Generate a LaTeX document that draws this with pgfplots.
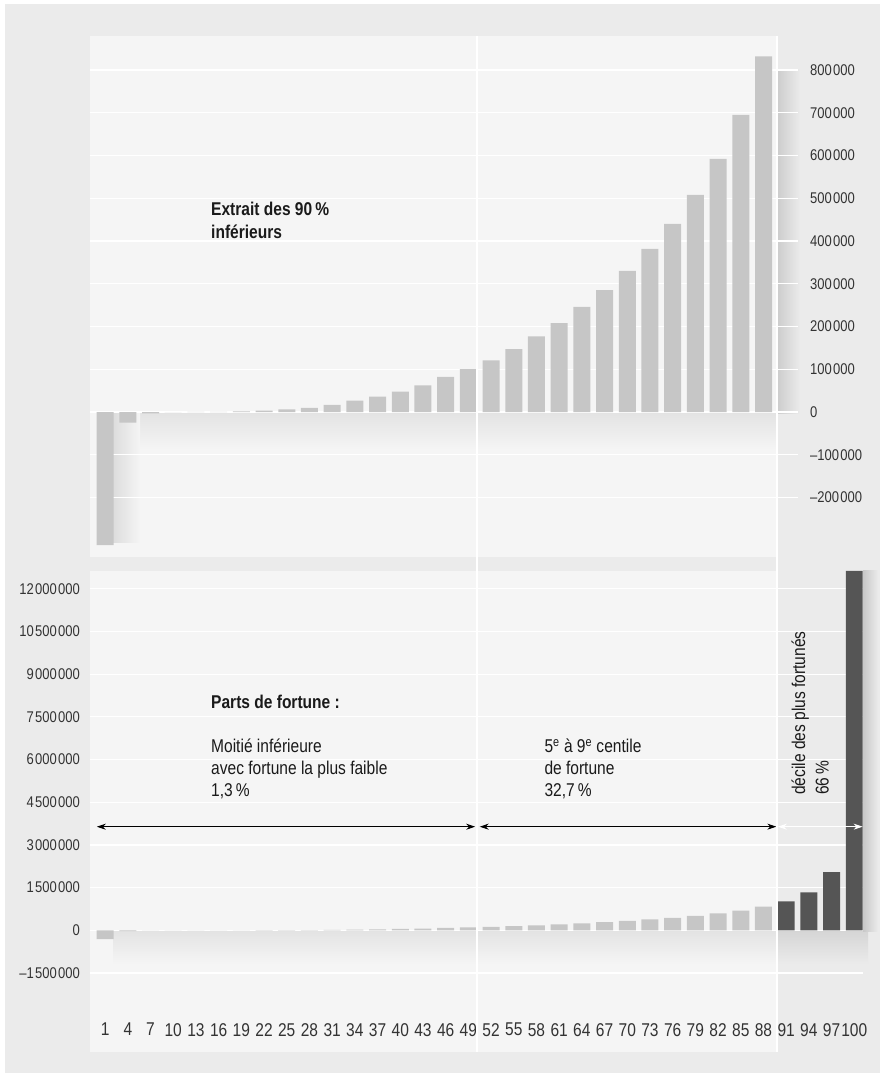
\documentclass[border=0pt]{standalone}
\usepackage{pgfplots}
\pgfplotsset{compat=1.18}
\usepackage{pgfplotstable}
\usetikzlibrary{arrows.meta}
\usepackage{fontspec}
\setmainfont{Liberation Sans}[FakeStretch=0.84]

\definecolor{outerbg}{HTML}{EBEBEB}
\definecolor{panelbg}{HTML}{F5F5F5}
\definecolor{lightbar}{HTML}{C6C6C6}
\definecolor{darkbar}{HTML}{555555}
\definecolor{tickc}{HTML}{333333}
\definecolor{txt}{HTML}{1A1A1A}
\newcommand{\ts}{\kern1.3pt}

\pgfplotstableread{
c v
1 -311000
4 -25000
7 -3000
10 0
13 200
16 500
19 1500
22 3500
25 6000
28 10000
31 17000
34 26500
37 36000
40 48000
43 62500
46 82000
49 100500
52 121000
55 147000
58 177000
61 208000
64 246000
67 285000
70 330000
73 381500
76 440000
79 508000
82 592000
85 695000
88 832000
}\lightdata

\pgfplotstableread{
c v
91 1020000
94 1336000
97 2040000
100 12622000
}\darkdata

\begin{document}
\begin{tikzpicture}
\useasboundingbox (0pt,0pt) rectangle (880pt,1078pt);
\fill[white] (0pt,0pt) rectangle (880pt,1078pt);
\fill[outerbg] (5pt,5pt) rectangle (880pt,1074pt);
\fill[panelbg] (90pt,521pt) rectangle (777pt,1042pt);
\fill[panelbg] (90pt,26pt) rectangle (777pt,507pt);
% soft shadows (decoration)
\shade[top color=black!7!panelbg, bottom color=panelbg] (135pt,628pt) rectangle (777pt,664pt);
\shade[left color=black!10!panelbg, right color=panelbg] (113pt,535pt) rectangle (140pt,664pt);
\shade[left color=black!13!outerbg, right color=outerbg] (777pt,664pt) rectangle (800pt,1008pt);
\shade[top color=black!7!panelbg, bottom color=panelbg] (113pt,114pt) rectangle (777pt,146pt);
\shade[top color=black!9!outerbg, bottom color=outerbg] (777pt,114pt) rectangle (868pt,146pt);
\shade[left color=black!15!outerbg, right color=outerbg] (863pt,146pt) rectangle (878pt,507pt);

% ---------- top chart ----------
\begin{axis}[at={(90pt,521pt)}, anchor=south west, scale only axis,
  width=708pt, height=521pt,
  xmin=-1, xmax=92.56, ymin=-339000, ymax=879500,
  ybar, bar width=17pt,
  axis line style={draw=none}, major tick length=0pt,
  xtick=\empty, scaled y ticks=false,
  ytick={-200000,-100000,0,100000,200000,300000,400000,500000,600000,700000,800000},
  yticklabels={–200\ts000,–100\ts000,0,100\ts000,200\ts000,300\ts000,400\ts000,500\ts000,600\ts000,700\ts000,800\ts000},
  yticklabel pos=right,
  yticklabel style={anchor=west, inner sep=0pt, xshift=12pt, font=\fontsize{15.5}{18}\selectfont, text=tickc},
  ymajorgrids, grid style={white, line width=1.2pt}]
\addplot[fill=lightbar, draw=none, bar shift=0pt] table[x=c,y=v]{\lightdata};
\end{axis}

% ---------- bottom chart ----------
\begin{axis}[at={(90pt,78pt)}, anchor=south west, scale only axis,
  width=772.6pt, height=429pt,
  xmin=-1, xmax=101.1, ymin=-2448000, ymax=12622000,
  ybar, bar width=17pt,
  axis line style={draw=none}, major tick length=0pt,
  scaled y ticks=false,
  ytick={-1500000,0,1500000,3000000,4500000,6000000,7500000,9000000,10500000,12000000},
  yticklabels={–1\ts500\ts000,0,1\ts500\ts000,3\ts000\ts000,4\ts500\ts000,6\ts000\ts000,7\ts500\ts000,9\ts000\ts000,10\ts500\ts000,12\ts000\ts000},
  yticklabel style={anchor=east, inner sep=0pt, xshift=-10pt, font=\fontsize{15.5}{18}\selectfont, text=tickc},
  xtick={1,4,7,10,13,16,19,22,25,28,31,34,37,40,43,46,49,52,55,58,61,64,67,70,73,76,79,82,85,88,91,94,97,100},
  xticklabels={1,4,7,10,13,16,19,22,25,28,31,34,37,40,43,46,49,52,55,58,61,64,67,70,73,76,79,82,85,88,91,94,97,100},
  xticklabel style={anchor=north, inner sep=0pt, yshift=-23pt, font=\fontsize{18.5}{20}\selectfont, text=tickc},
  ymajorgrids, grid style={white, line width=1.2pt}]
\addplot[fill=lightbar, draw=none, bar shift=0pt] table[x=c,y=v]{\lightdata};
\addplot[fill=darkbar, draw=none, bar shift=0pt] table[x=c,y=v]{\darkdata};
\draw[black, line width=0.9pt, {Stealth[length=9pt,width=6pt]}-{Stealth[length=9pt,width=6pt]}] (axis cs:-0.1,3640000) -- (axis cs:49.9,3640000);
\draw[black, line width=0.9pt, {Stealth[length=9pt,width=6pt]}-{Stealth[length=9pt,width=6pt]}] (axis cs:50.5,3640000) -- (axis cs:89.7,3640000);
\draw[white, line width=0.9pt, {Stealth[length=9pt,width=6pt]}-{Stealth[length=9pt,width=6pt]}] (axis cs:89.9,3640000) -- (axis cs:101.1,3640000);
\end{axis}

% vertical separators
\draw[white, line width=1.2pt] (477pt,26pt) -- (477pt,1042pt);
\draw[white, line width=1.2pt] (777pt,26pt) -- (777pt,1042pt);

% annotations
\begin{scope}[every node/.style={inner sep=0pt, text=txt, font=\fontsize{18.5}{22}\selectfont}]
\node[anchor=base west] at (211pt,862.3pt) {\bfseries Extrait des 90\,\%};
\node[anchor=base west] at (211pt,839.7pt) {\bfseries inférieurs};
\node[anchor=base west] at (211pt,369pt) {\bfseries Parts de fortune :};
\node[anchor=base west] at (211pt,325.7pt) {Moitié inférieure};
\node[anchor=base west] at (211pt,303.5pt) {avec fortune la plus faible};
\node[anchor=base west] at (211pt,281.3pt) {1,3\,\%};
\node[anchor=base west] at (544.3pt,325.7pt) {5\textsuperscript{e} à 9\textsuperscript{e} centile};
\node[anchor=base west] at (544.3pt,303.5pt) {de fortune};
\node[anchor=base west] at (544.3pt,281.3pt) {32,7\,\%};
\node[anchor=base west, rotate=90] at (805pt,283pt) {décile des plus fortunés};
\node[anchor=base west, rotate=90] at (828.5pt,283pt) {66\,\%};
\end{scope}
\end{tikzpicture}
\end{document}
